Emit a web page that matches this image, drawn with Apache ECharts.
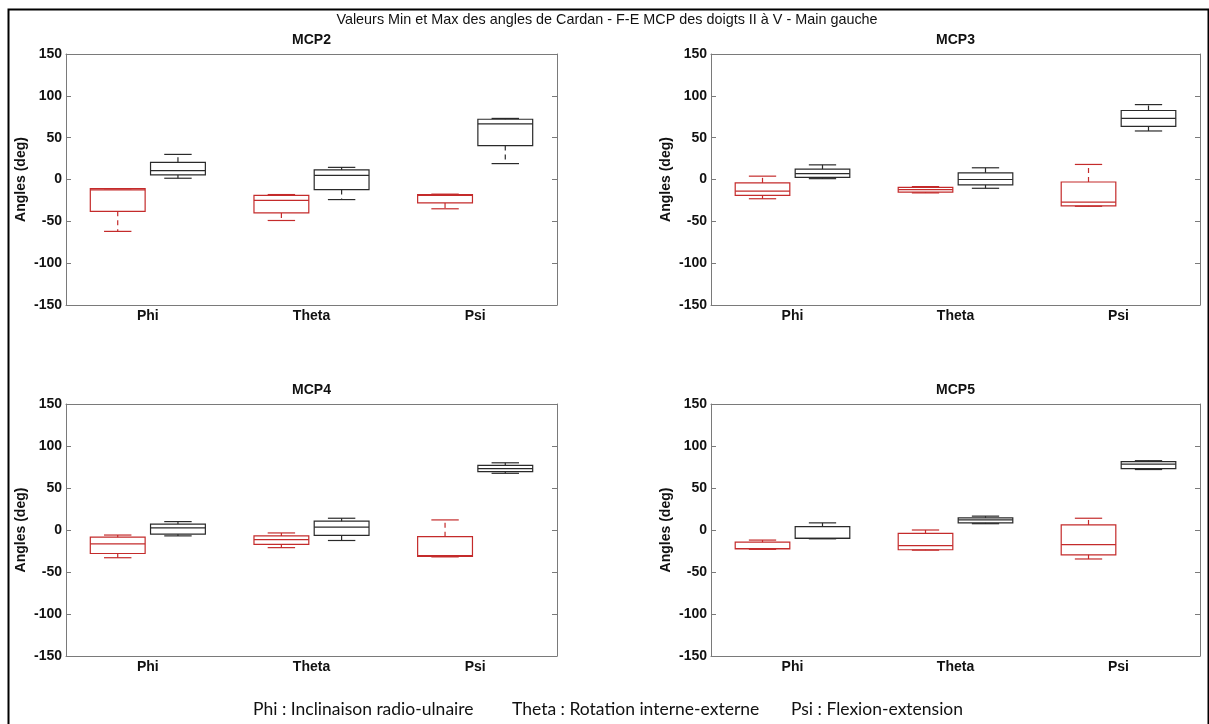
<!DOCTYPE html>
<html>
<head>
<meta charset="utf-8">
<script src="https://cdn.jsdelivr.net/npm/echarts@6/dist/echarts.min.js"></script>
<style>
html,body{margin:0;padding:0;background:#fff;}
#c{width:1209px;height:724px;}
</style>
</head>
<body>
<div id="c"></div>
<script>
const categories = ['Phi', 'Theta', 'Psi'];
const panelTitles = ['MCP2', 'MCP3', 'MCP4', 'MCP5'];
const mainTitle = 'Valeurs Min et Max des angles de Cardan - F-E MCP des doigts II à V - Main gauche';
const yAxisName = 'Angles (deg)';
const footerTexts = ['Phi : Inclinaison radio-ulnaire', 'Theta : Rotation interne-externe', 'Psi : Flexion-extension'];

// each row: [min, q1, median, q3, max] for Phi, Theta, Psi
const mcp2Red   = [[-62, -38, -12.5, -11, -11], [-49, -40, -25, -19, -18], [-35, -28, -19, -18, -17.5]];
const mcp2Black = [[1.5, 5.5, 10.5, 20.5, 30], [-24, -12, 5, 11.5, 14.5], [19, 40.5, 66.5, 72, 73]];
const mcp3Red   = [[-23, -19, -14, -4, 4], [-16, -15, -12, -9.5, -8.5], [-32, -31.5, -27, -3, 18]];
const mcp3Black = [[1, 2.5, 7, 12.5, 17.5], [-10.5, -6.5, 0, 8, 14], [58, 63.5, 73, 82.5, 89.5]];
const mcp4Red   = [[-33, -28, -16.5, -8.5, -6], [-21, -17, -11.5, -7, -3.5], [-32, -31.5, -30.5, -8, 12]];
const mcp4Black = [[-7, -5, 2.5, 7, 10], [-12.5, -6.5, 3.5, 10.5, 14], [67.5, 69.5, 73, 77, 80]];
const mcp5Red   = [[-23, -22.5, -22, -14.5, -12], [-24, -23.5, -18.5, -4, 0], [-34.5, -29.5, -17.5, 6, 14]];
const mcp5Black = [[-10.5, -10, -10, 4, 8.5], [7.5, 8.5, 12, 14.5, 16.5], [72, 73, 78.5, 81.5, 82.5]];

const panelData = [
  [mcp2Red, mcp2Black],
  [mcp3Red, mcp3Black],
  [mcp4Red, mcp4Black],
  [mcp5Red, mcp5Black]
];

const RED = '#c42b2b';
const BLACK = '#2a2a2a';
const AXIS = '#7a7a7a';
const FONT = '"Liberation Sans", Arial, sans-serif';

const grids = [
  {left: 66, top: 54, width: 491, height: 251},
  {left: 711, top: 54, width: 489, height: 251},
  {left: 66, top: 404, width: 491, height: 252},
  {left: 711, top: 404, width: 489, height: 252}
];

function makeRender(side, color) {
  return function (params, api) {
    const cat = api.value(0);
    const band = api.size([1, 0])[0];
    const w = band * 0.335;
    const cx = api.coord([cat, 0])[0] + side * band * 0.184;
    const y = v => api.coord([cat, v])[1];
    const yMin = y(api.value(1)), yQ1 = y(api.value(2)), yMed = y(api.value(3)),
          yQ3 = y(api.value(4)), yMax = y(api.value(5));
    const x0 = cx - w / 2, x1 = cx + w / 2;
    const cw = w / 4;
    const solid = {stroke: color, lineWidth: 1.2, fill: null};
    const dashed = {stroke: color, lineWidth: 1.2, lineDash: [5, 4]};
    return {
      type: 'group',
      children: [
        {type: 'line', shape: {x1: cx, y1: yQ3, x2: cx, y2: yMax}, style: dashed},
        {type: 'line', shape: {x1: cx, y1: yQ1, x2: cx, y2: yMin}, style: dashed},
        {type: 'line', shape: {x1: cx - cw, y1: yMax, x2: cx + cw, y2: yMax}, style: solid},
        {type: 'line', shape: {x1: cx - cw, y1: yMin, x2: cx + cw, y2: yMin}, style: solid},
        {type: 'rect', shape: {x: x0, y: yQ3, width: w, height: Math.max(yQ1 - yQ3, 0.5)}, style: solid},
        {type: 'line', shape: {x1: x0, y1: yMed, x2: x1, y2: yMed}, style: solid}
      ]
    };
  };
}

const xAxes = [], yAxes = [], series = [], titles = [];
titles.push({
  text: mainTitle, left: 607, top: 13, textAlign: 'center', padding: 0,
  textStyle: {fontFamily: FONT, fontSize: 14.4, fontWeight: 'normal', color: '#111'}
});

grids.forEach((g, i) => {
  const labelStyle = {fontFamily: FONT, fontSize: 14, fontWeight: 'bold', color: '#111'};
  xAxes.push({
    gridIndex: i, type: 'category', data: categories, boundaryGap: true, position: 'bottom',
    axisLine: {onZero: false, lineStyle: {color: AXIS, width: 1}},
    axisTick: {inside: true, alignWithLabel: true, length: 5, lineStyle: {color: AXIS}},
    axisLabel: Object.assign({margin: 4}, labelStyle),
    splitLine: {show: false}
  });
  xAxes.push({
    gridIndex: i, type: 'category', data: categories, boundaryGap: true, position: 'top',
    axisLine: {onZero: false, lineStyle: {color: AXIS, width: 1}},
    axisTick: {inside: true, alignWithLabel: true, length: 5, lineStyle: {color: AXIS}},
    axisLabel: {show: false}, splitLine: {show: false}
  });
  yAxes.push({
    gridIndex: i, type: 'value', min: -150, max: 150, interval: 50, position: 'left',
    name: yAxisName, nameLocation: 'middle', nameRotate: 90, nameGap: 38,
    nameTextStyle: labelStyle,
    axisLine: {show: true, onZero: false, lineStyle: {color: AXIS, width: 1}},
    axisTick: {show: true, inside: true, length: 5, lineStyle: {color: AXIS}},
    axisLabel: Object.assign({margin: 4}, labelStyle),
    splitLine: {show: false}
  });
  yAxes.push({
    gridIndex: i, type: 'value', min: -150, max: 150, interval: 50, position: 'right',
    axisLine: {show: true, onZero: false, lineStyle: {color: AXIS, width: 1}},
    axisTick: {show: true, inside: true, length: 5, lineStyle: {color: AXIS}},
    axisLabel: {show: false}, splitLine: {show: false}
  });
  titles.push({
    text: panelTitles[i], left: g.left + g.width / 2, top: g.top - 21, textAlign: 'center', padding: 0,
    textStyle: {fontFamily: FONT, fontSize: 14, fontWeight: 'bold', color: '#111'}
  });
  const [redData, blackData] = panelData[i];
  [[redData, -1, RED], [blackData, 1, BLACK]].forEach(([arr, side, color]) => {
    series.push({
      type: 'custom', xAxisIndex: i * 2, yAxisIndex: i * 2,
      renderItem: makeRender(side, color),
      encode: {x: 0, y: [1, 2, 3, 4, 5]},
      data: arr.map((d, k) => [k].concat(d)),
      silent: true, animation: false
    });
  });
});

const footerX = [253, 512, 791];
const graphic = [
  {type: 'rect', left: 6, top: 7, shape: {width: 1200, height: 730},
   style: {fill: null, stroke: '#000', lineWidth: 2}, silent: true}
];
footerTexts.forEach((t, i) => {
  graphic.push({type: 'text', left: footerX[i], top: 700,
    style: {text: t, fill: '#111', font: '17.5px Lato, sans-serif'}});
});

const chart = echarts.init(document.getElementById('c'), null, {renderer: 'canvas'});
chart.setOption({
  backgroundColor: '#fff',
  animation: false,
  title: titles,
  grid: grids,
  xAxis: xAxes,
  yAxis: yAxes,
  series: series,
  graphic: graphic
});
</script>
</body>
</html>
